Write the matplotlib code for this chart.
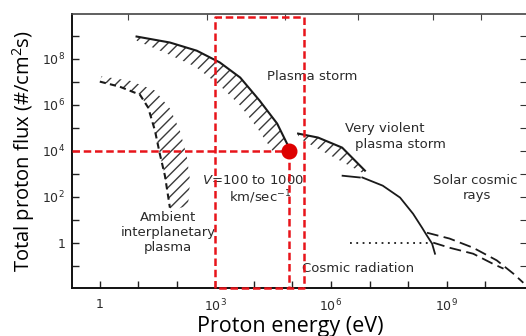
import numpy as np
import matplotlib
matplotlib.use('Agg')
import matplotlib.pyplot as plt
from matplotlib.ticker import FixedLocator, NullFormatter

plt.rcParams['hatch.linewidth'] = 1.0
plt.rcParams['mathtext.default'] = 'regular'

# plasma storm band: solid upper edge and hatched side below it
storm_E = [9, 66, 330, 1300, 4400, 14000, 40000, 76000]
storm_F = [9.1e8, 5.0e8, 2.2e8, 6.8e7, 1.5e7, 1.5e6, 1.5e5, 1.7e4]
storm_low_E = [9, 49, 300, 1300, 4400, 12000, 30000, 72000]
storm_low_F = [6.0e8, 1.8e8, 4.5e7, 6.8e6, 9.1e5, 1.0e5, 1.0e4, 8.1e3]

# ambient interplanetary plasma: dashed edge, hatch on the right
amb_E = [1.0, 3.3, 11, 18, 27, 36, 49, 66]
amb_F = [1e7, 6e6, 2.7e6, 7.4e5, 7.4e4, 7.4e3, 810, 33]
amb_out_E = [1.1, 6.0, 27, 66, 120, 180, 220, 195, 74]
amb_out_F = [1.7e7, 1.1e7, 4.1e6, 6.8e5, 7.4e4, 6.0e3, 500, 41, 25]

# very violent plasma storm
vv_E = [1.4e5, 4.6e5, 1.95e6, 7.6e6]
vv_F = [5.5e4, 3.7e4, 1.35e4, 1350]
vv_low_E = [1.4e5, 4.6e5, 1.7e6, 6.5e6]
vv_low_F = [3.7e4, 1.2e4, 3.7e3, 1.1e3]

# solar cosmic rays
sol_dash_E = [2.0e6, 5.6e6]
sol_dash_F = [810, 680]
sol_E = [6.5e6, 2.2e7, 6.2e7, 1.35e8, 2.3e8, 3.1e8, 4.2e8, 5.0e8]
sol_F = [680, 300, 91, 18, 4.5, 2.0, 0.91, 0.33]
sol_up_E = [3.1e8, 1.2e9, 4.9e9, 2.0e10, 5.4e10, 9.8e10]
sol_up_F = [2.7, 1.5, 0.6, 0.17, 0.045, 0.018]
sol_lo_E = [4.5e8, 1.2e9, 4.9e9, 1.6e10, 3.0e10]
sol_lo_F = [1.0, 0.6, 0.33, 0.12, 0.074]

# cosmic radiation (dotted)
cos_E = [3.1e6, 3.3e8]
cos_F = [1, 1]

# red overlay: chosen point and energy window
pt_E, pt_F = 8e4, 1e4
win_E = [1e3, 2e5]
win_top = 6.7e9

top_ticks = [5.4, 600, 6.5e4, 5e6, 4.5e8, 8e9]

fig = plt.figure(figsize=(5.26, 3.36), dpi=100)
ax = fig.add_axes([0.1369, 0.1429, 0.8631, 0.8155])
ax.set_xscale('log')
ax.set_yscale('log')
ax.set_xlim(0.19, 1.15e11)
ax.set_ylim(1.07e-2, 8.7e9)

ink = '#1a1a1a'
hatch_col = '#3a3a3a'

# plasma storm
ax.fill(storm_E + storm_low_E[::-1], storm_F + storm_low_F[::-1],
        facecolor='none', edgecolor=hatch_col, hatch='///', linewidth=0)
ax.plot(storm_E, storm_F, color=ink, lw=1.5)

# ambient plasma
ax.fill(amb_E + amb_out_E[::-1], amb_F + amb_out_F[::-1],
        facecolor='none', edgecolor=hatch_col, hatch='///', linewidth=0)
ax.plot(amb_E, amb_F, color=ink, lw=1.5, dashes=(3, 2))

# very violent storm
ax.fill(vv_E + vv_low_E[::-1], vv_F + vv_low_F[::-1],
        facecolor='none', edgecolor=hatch_col, hatch='///', linewidth=0)
ax.plot(vv_E, vv_F, color=ink, lw=1.5)

# solar cosmic rays
ax.plot(sol_dash_E, sol_dash_F, color=ink, lw=1.3)
ax.plot(sol_E, sol_F, color=ink, lw=1.3)
ax.plot(sol_up_E, sol_up_F, color=ink, lw=1.3, dashes=(6.5, 3))
ax.plot(sol_lo_E, sol_lo_F, color=ink, lw=1.3, dashes=(6.5, 3))
ax.plot(cos_E, cos_F, color=ink, lw=1.3, dashes=(1, 2.5))

# red overlay
red = '#e8141a'
ylo = ax.get_ylim()[0]
xlo = ax.get_xlim()[0]
ax.plot([win_E[0], win_E[0], win_E[1], win_E[1], win_E[0]],
        [ylo, win_top, win_top, ylo, ylo], color=red, lw=1.8,
        dashes=(3, 1.5), clip_on=False, zorder=5)
ax.plot([xlo, pt_E], [pt_F, pt_F], color=red, lw=1.8, dashes=(3, 1.5), zorder=5)
ax.plot([pt_E, pt_E], [pt_F, ylo], color=red, lw=1.8, dashes=(3, 1.5), zorder=5)
ax.plot(pt_E, pt_F, 'o', color='#dd0000', ms=10.5, zorder=6)

# labels inside the plot
tk = dict(color='#2a2a2a', fontsize=9.5, family='DejaVu Sans')
ax.text(10**5.51, 10**7.22, 'Plasma storm', ha='center', va='center', **tk)
ax.text(10**6.36, 10**4.96, 'Very violent', ha='left', va='center', **tk)
ax.text(10**6.62, 10**4.26, 'plasma storm', ha='left', va='center', **tk)
ax.text(10**3.97, 10**2.70, '$\\it{V}$=100 to 1000', ha='center', va='center', **tk)
ax.text(10**4.16, 10**1.98, 'km/sec$^{-1}$', ha='center', va='center', **tk)
ax.text(10**9.74, 10**2.70, 'Solar cosmic', ha='center', va='center', **tk)
ax.text(10**9.78, 10**2.04, 'rays', ha='center', va='center', **tk)
ax.text(10**1.77, 10**0.43, 'Ambient\ninterplanetary\nplasma', ha='center',
        va='center', linespacing=1.2, **tk)
ax.text(10**6.70, 10**-1.13, 'Cosmic radiation', ha='center', va='center', **tk)

# axes and ticks
for s in ['left', 'bottom']:
    ax.spines[s].set_linewidth(1.4)
    ax.spines[s].set_color('#111111')
ax.spines['top'].set_linewidth(1.2)
ax.spines['top'].set_color('#444444')
ax.spines['right'].set_visible(False)

ax.xaxis.set_major_locator(FixedLocator([1, 1e3, 1e6, 1e9]))
ax.set_xticklabels(['1', '$10^3$', '$10^6$', '$10^9$'])
ax.xaxis.set_minor_locator(FixedLocator([10, 100, 1e4, 1e5, 1e7, 1e8, 1e10]))
ax.xaxis.set_minor_formatter(NullFormatter())
ax.yaxis.set_major_locator(FixedLocator([1, 1e2, 1e4, 1e6, 1e8]))
ax.set_yticklabels(['1', '$10^2$', '$10^4$', '$10^6$', '$10^8$'])
ax.yaxis.set_minor_locator(FixedLocator([0.1, 10, 1e3, 1e5, 1e7, 1e9]))
ax.yaxis.set_minor_formatter(NullFormatter())
ax.tick_params(which='both', direction='in', color='#222222', width=1,
               labelcolor='#2a2a2a', labelsize=9)
ax.tick_params(which='major', length=5, pad=7)
ax.tick_params(which='minor', length=5)
ax.tick_params(axis='y', which='major', pad=5)

secx = ax.secondary_xaxis('top')
secx.set_xticks(top_ticks)
secx.xaxis.set_minor_locator(FixedLocator([]))
secx.set_xticklabels([])
secx.tick_params(direction='in', length=4, color='#444444')
secx.spines['top'].set_visible(False)

secy = ax.secondary_yaxis('right')
secy.set_yticks([10.0**k for k in range(-1, 10)])
secy.yaxis.set_minor_locator(FixedLocator([]))
secy.set_yticklabels([])
secy.tick_params(direction='in', length=4, color='#333333')
secy.spines['right'].set_visible(False)

ax.set_xlabel('Proton energy (eV)', family='Open Sans', fontsize=15.5, color='black')
ax.xaxis.set_label_coords(0.48, -0.104)
ax.set_ylabel('Total proton flux (#/cm$^2$s)', family='Open Sans', fontsize=14.5,
              color='black')
ax.yaxis.set_label_coords(-0.078, 0.5)

fig.savefig('out.png', dpi=100)
